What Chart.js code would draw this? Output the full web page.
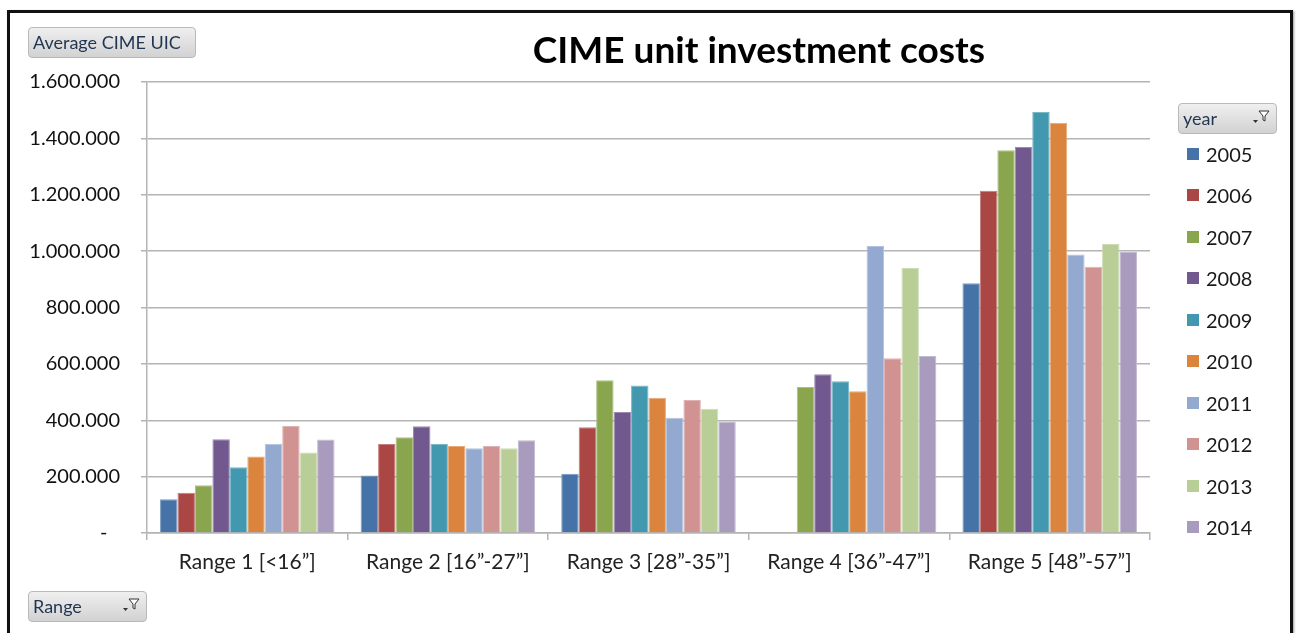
<!DOCTYPE html>
<html><head><meta charset="utf-8">
<script src="https://cdn.jsdelivr.net/npm/chart.js@4.4.1/dist/chart.umd.min.js"></script>
<style>
html,body{margin:0;padding:0;background:#fff;width:1296px;height:633px;overflow:hidden;font-family:Lato,"Open Sans",sans-serif;}
#wrap{position:relative;width:1296px;height:633px;}
#frame{position:absolute;left:7px;top:10px;width:1280px;height:660px;border:3px solid #111;box-shadow:1px 1px 2px #999;}
canvas{position:absolute;left:0;top:0;}
.btn{position:absolute;box-sizing:border-box;border:1px solid #b9b9b9;border-radius:4px;background:linear-gradient(#efefef,#d2d2d2);color:#1f3552;font-size:18px;line-height:29px;padding-left:4px;white-space:nowrap;}
.btn svg{position:absolute;right:4px;top:3px;}
#title{position:absolute;left:409px;width:700px;top:26px;text-align:center;font-weight:bold;font-size:37px;color:#000;line-height:46px;}
.li{position:absolute;left:1187px;height:22px;font-size:20px;color:#1a1a1a;line-height:22px;}
.li span.sw{position:absolute;left:0;top:5px;width:12px;height:12px;}
.li span.tx{position:absolute;left:19px;top:0;}
</style></head>
<body><div id="wrap">
<canvas id="c" width="1296" height="633"></canvas>
<div id="frame"></div>
<div id="title">CIME unit investment costs</div>
<div class="btn" style="left:28px;top:27px;width:168px;height:31px;">Average CIME UIC</div>
<div class="btn" style="left:1178px;top:103px;width:99px;height:31px;">year<svg width="22" height="20" viewBox="0 0 22 20"><path d="M9 4 L19 4 L15 9 L15 14 L13 13 L13 9 Z" fill="#fff" stroke="#333" stroke-width="1"/><path d="M3 13 L8 13 L5.5 16 Z" fill="#333"/></svg></div>
<div class="btn" style="left:28px;top:591px;width:119px;height:31px;">Range<svg width="22" height="20" viewBox="0 0 22 20"><path d="M9 4 L19 4 L15 9 L15 14 L13 13 L13 9 Z" fill="#fff" stroke="#333" stroke-width="1"/><path d="M3 13 L8 13 L5.5 16 Z" fill="#333"/></svg></div>
<div id="legend"></div>
</div>
<script>
const categories = ['Range 1 [<16\u201D]', 'Range 2 [16\u201D-27\u201D]', 'Range 3 [28\u201D-35\u201D]', 'Range 4 [36\u201D-47\u201D]', 'Range 5 [48\u201D-57\u201D]'];
const years = ['2005','2006','2007','2008','2009','2010','2011','2012','2013','2014'];
const colors = ['#4572A7','#AA4643','#89A54E','#71588F','#4198AF','#DB843D','#93A9CF','#D19392','#B9CD96','#A99BBD'];
const v2005 = [120000, 204000, 210000, null, 886000];
const v2006 = [143000, 316000, 375000, null, 1214000];
const v2007 = [169000, 340000, 542000, 518000, 1358000];
const v2008 = [333000, 379000, 429000, 563000, 1369000];
const v2009 = [233000, 316000, 523000, 538000, 1494000];
const v2010 = [271000, 309000, 480000, 503000, 1455000];
const v2011 = [317000, 301000, 409000, 1018000, 988000];
const v2012 = [380000, 309000, 472000, 620000, 945000];
const v2013 = [286000, 301000, 441000, 940000, 1025000];
const v2014 = [332000, 329000, 396000, 628000, 997000];
const seriesValues = [v2005, v2006, v2007, v2008, v2009, v2010, v2011, v2012, v2013, v2014];
const yTicks = [0, 200000, 400000, 600000, 800000, 1000000, 1200000, 1400000, 1600000];

function fmt(v){ return v === 0 ? '-\u2002\u2009' : String(v).replace(/\B(?=(\d{3})+(?!\d))/g, '.'); }
function lighten(hex, f){
  const n = parseInt(hex.slice(1), 16);
  const r = (n >> 16) & 255, g = (n >> 8) & 255, b = n & 255;
  const m = c => Math.round(c + (255 - c) * f);
  return 'rgb(' + m(r) + ',' + m(g) + ',' + m(b) + ')';
}

const datasets = years.map((y, i) => ({
  label: y,
  data: seriesValues[i],
  backgroundColor: colors[i],
  borderColor: lighten(colors[i], 0.3),
  borderWidth: 1,
  categoryPercentage: 0.87,
  barPercentage: 1.0
}));

new Chart(document.getElementById('c'), {
  type: 'bar',
  data: { labels: categories, datasets },
  options: {
    responsive: false,
    animation: false,
    devicePixelRatio: 1,
    layout: { padding: { left: 0, right: 146, top: 82, bottom: 0 } },
    plugins: { legend: { display: false }, title: { display: false }, tooltip: { enabled: false } },
    scales: {
      y: {
        min: 0, max: 1600000,
        afterBuildTicks: s => { s.ticks = yTicks.map(v => ({ value: v })); },
        afterFit: s => { s.width = 147; },
        ticks: { callback: v => fmt(v), font: { family: 'Lato', size: 20 }, color: '#111', padding: 21 },
        grid: { color: '#b4b4b4', lineWidth: 1.5, tickLength: 6 },
        border: { color: '#b4b4b4', width: 1.5 }
      },
      x: {
        afterFit: s => { s.height = 100; },
        ticks: { font: { family: 'Lato', size: 21 }, color: '#222', padding: 10, maxRotation: 0 },
        grid: { drawOnChartArea: false, color: '#b4b4b4', lineWidth: 1.5, tickLength: 7, offset: true },
        border: { color: '#b4b4b4', width: 1.5 }
      }
    }
  }
});

const lg = document.getElementById('legend');
years.forEach((y, i) => {
  const d = document.createElement('div');
  d.className = 'li';
  d.style.top = (154 + i * 41.44 - 11) + 'px';
  d.innerHTML = '<span class="sw" style="background:' + colors[i] + '"></span><span class="tx">' + y + '</span>';
  lg.appendChild(d);
});
</script>
</body></html>
